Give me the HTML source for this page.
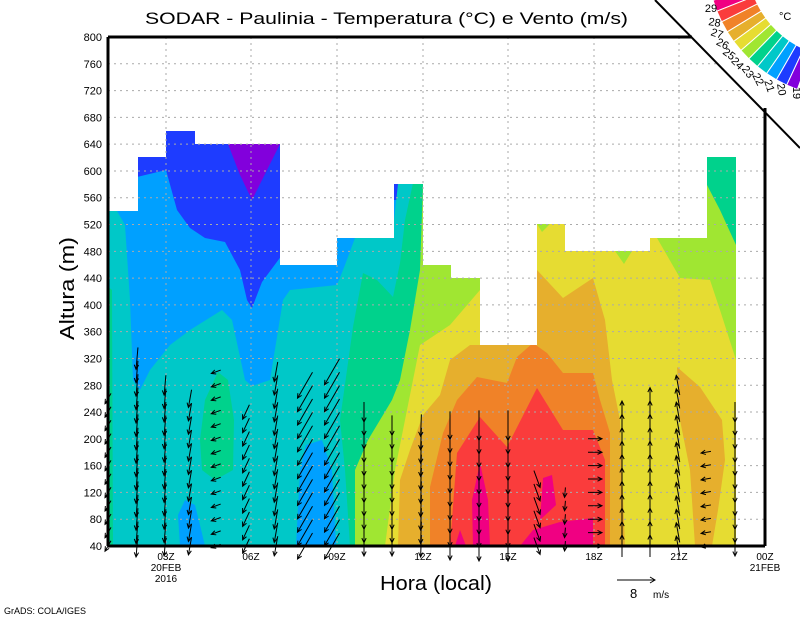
<!DOCTYPE html>
<html><head><meta charset="utf-8"><style>
html,body{margin:0;padding:0;background:#fff;}
svg{display:block;font-family:"Liberation Sans",sans-serif;}
</style></head><body>
<svg id="s" width="800" height="618" viewBox="0 0 800 618" xmlns="http://www.w3.org/2000/svg">
<defs>
<clipPath id="dm"><path d="M108,546 L108,211 L138,211 L138,157 L166,157 L166,131 L195,131 L195,144 L280,144 L280,265 L337,265 L337,238 L394,238 L394,184 L423,184 L423,265 L451,265 L451,278 L480,278 L480,345 L537,345 L537,224 L565,224 L565,251 L650,251 L650,238 L707,238 L707,157 L736,157 L736,546 Z"/></clipPath>
</defs>
<rect width="800" height="618" fill="#fff"/>
<g clip-path="url(#dm)">
<rect x="100" y="100" width="700" height="460" fill="#1e3cff"/>
<polygon fill="#8200dc" points="228,144 280,144 262,180 252,200 240,175"/>
<polygon fill="#00a0ff" points="108,177 137,177 166,170 177,210 190,228 205,238 225,242 240,270 247,300 252,308 262,282 282,255 282,200 800,200 800,560 100,560"/>
<polygon fill="#00c8c8" points="100,211 117,211 125,225 130,300 133,380 140,390 150,370 170,345 190,330 222,310 232,320 245,380 252,386 270,380 283,300 290,290 337,285 345,265 355,238 392,238 398,184 800,184 800,560 100,560"/>
<polygon fill="#00a0ff" points="180,546 178,515 185,500 195,505 200,525 205,546"/>
<polygon fill="#00a0ff" points="296,546 300,470 306,445 322,440 332,470 336,546"/>
<polygon fill="#00d28c" points="100,280 112,290 113,546 100,546"/>
<polygon fill="#00d28c" points="200,440 205,400 218,372 228,380 234,420 233,470 215,480 202,470"/>
<polygon fill="#00d28c" points="350,546 345,470 340,420 353,327 363,273 377,280 393,297 400,263 405,220 413,183 800,150 800,560"/>
<polygon fill="#a0e632" points="355,546 355,470 368,440 380,420 392,400 400,380 410,330 420,270 423,184 430,150 800,150 800,560"/>
<polygon fill="#00d28c" points="707,150 745,150 745,260 736,245 720,210 707,185"/>
<polygon fill="#e6dc32" points="385,546 395,470 405,420 420,345 450,325 480,290 485,150 660,150 657,238 680,278 710,280 720,310 736,360 745,360 745,560 385,560"/>
<polygon fill="#a0e632" points="537,224 550,224 542,232"/>
<polygon fill="#a0e632" points="615,251 632,251 624,264"/>
<polygon fill="#e6af2d" points="398,546 400,480 410,450 423,415 440,395 450,360 470,345 537,345 537,270 563,298 593,278 605,320 612,380 620,420 625,546"/>
<polygon fill="#e6af2d" points="677,367 700,387 722,420 725,460 718,510 712,546 695,546 690,470 680,420"/>
<polygon fill="#f08228" points="430,546 430,487 443,433 457,400 477,377 507,383 517,357 533,343 547,353 563,373 593,373 600,400 610,433 610,546"/>
<polygon fill="#fa3c3c" points="450,546 457,453 480,417 507,447 537,388 563,430 593,430 605,460 605,546"/>
<polygon fill="#f00082" points="473,546 472,500 480,463 488,500 490,546"/>
<polygon fill="#f00082" points="520,546 533,530 560,522 593,518 593,546"/>
<polygon fill="#f00082" points="540,520 543,478 552,475 556,505"/>
<polygon fill="#f00082" points="455,546 460,530 466,546"/>
</g>
<g id="grid" stroke="#aaa" stroke-width="1" stroke-dasharray="2,4"></g>
<g id="wind" stroke="#000" stroke-width="1" fill="none"></g>
<line x1="108" y1="37" x2="108" y2="546" stroke="#000" stroke-width="3"/>
<line x1="108" y1="546" x2="765" y2="546" stroke="#000" stroke-width="3"/>
<line x1="108" y1="37" x2="692" y2="37" stroke="#000" stroke-width="3"/>
<line x1="765" y1="108" x2="765" y2="546" stroke="#000" stroke-width="3"/>
<g id="yl" font-size="11" text-anchor="end" fill="#000"></g>
<g font-size="10" text-anchor="middle" fill="#000">
<text x="166" y="560">03Z</text><text x="166" y="571">20FEB</text><text x="166" y="582">2016</text>
<text x="251" y="560">06Z</text><text x="337" y="560">09Z</text><text x="423" y="560">12Z</text>
<text x="508" y="560">15Z</text><text x="594" y="560">18Z</text><text x="679" y="560">21Z</text>
<text x="765" y="560">00Z</text><text x="765" y="571">21FEB</text>
</g>
<text x="145" y="24" font-size="17" textLength="483" lengthAdjust="spacingAndGlyphs">SODAR - Paulinia - Temperatura (°C) e Vento (m/s)</text>
<text x="380" y="590" font-size="20" textLength="112" lengthAdjust="spacingAndGlyphs">Hora (local)</text>
<text transform="translate(74,340) rotate(-90)" font-size="20" textLength="103" lengthAdjust="spacingAndGlyphs">Altura (m)</text>
<text x="4" y="614" font-size="9">GrADS: COLA/IGES</text>
<g stroke="#000" fill="none"><line x1="617" y1="580" x2="655" y2="580"/><polyline points="650,577 655,580 650,583"/></g>
<text x="630" y="598" font-size="13">8</text><text x="653" y="598" font-size="10">m/s</text>
<line x1="655" y1="0" x2="800" y2="148" stroke="#000" stroke-width="2"/>
<g id="cb"></g>
<text x="779" y="20" font-size="11">°C</text>
<script>
var ns="http://www.w3.org/2000/svg";
function el(p,t,a,txt){var e=document.createElementNS(ns,t);for(var k in a)e.setAttribute(k,a[k]);if(txt!=null)e.textContent=txt;p.appendChild(e);return e;}
var g=document.getElementById('grid');
for(var m=80;m<800;m+=40){var y=546-(m-40)*509/760;el(g,'line',{x1:108,x2:(y<110?Math.min(765,655+(y)*145/148):765),y1:y,y2:y});}
[166,251,337,423,508,594,679].forEach(function(x){el(g,'line',{x1:x,x2:x,y1:37,y2:546});});
var yl=document.getElementById('yl');
for(var m=40;m<=800;m+=40){var y=546-(m-40)*509/760;el(yl,'text',{x:102,y:y+4},String(m));}
var cols=[[108,120,12,390],[137,95,22,346],[165,95,20,385],[190,100,18,390],[216,160,10,370],[246,115,16,400],[276,100,20,360],[305,120,30,380],[332,120,30,360],[364,90,20,400],[392,90,20,420],[421,92,22,425],[450,90,28,425],[479,90,30,425],[508,90,30,425],[537,70,18,470],[565,95,10,490],[595,0,14,435],[622,-90,22,400],[650,-90,22,390],[678,-100,20,375],[706,170,10,450],[735,90,20,410]];
var w=document.getElementById('wind');
cols.forEach(function(c){var a=c[1]*Math.PI/180,L=c[2],dx=Math.cos(a),dy=Math.sin(a);
for(var y=546;y>=c[3];y-=13.4){var x0=c[0]-dx*L/2,y0=y-dy*L/2,x1=c[0]+dx*L/2,y1=y+dy*L/2;
var h=5,b1=a+Math.PI-0.45,b2=a+Math.PI+0.45;
el(w,'path',{d:'M'+x0+','+y0+'L'+x1+','+y1+'M'+(x1+h*Math.cos(b1))+','+(y1+h*Math.sin(b1))+'L'+x1+','+y1+'L'+(x1+h*Math.cos(b2))+','+(y1+h*Math.sin(b2))});}});
var cb=document.getElementById('cb');
var colors=["#f00082","#fa3c3c","#f08228","#e6af2d","#e6dc32","#a0e632","#00d28c","#00c8c8","#00a0ff","#1e3cff","#8200dc"];
var cx=845,cy=-40,r1=98,r2=138,a0=163,da=-4.8;
function A(r,t){return (cx+r*Math.cos(t)).toFixed(1)+','+(cy+r*Math.sin(t)).toFixed(1);}
var lab=[[711,8],[714,22],[716,33],[721,43],[727,53],[735,62],[745,70],[755,77],[766,83],[778,86],[793,89]];
for(var i=0;i<11;i++){var s=(a0+i*da)*Math.PI/180,e=(a0+(i+1)*da)*Math.PI/180;
el(cb,'path',{d:'M'+A(r1,s)+'L'+A(r2,s)+'L'+A(r2,e)+'L'+A(r1,e)+'Z',fill:colors[i],stroke:'#fff','stroke-width':1});
var deg=i*9;
el(cb,'text',{x:0,y:0,'font-size':11,'text-anchor':'middle',transform:'translate('+lab[i][0]+','+(lab[i][1]+4)+') rotate('+deg+')'},String(29-i));}
</script>
</svg>
</body></html>
